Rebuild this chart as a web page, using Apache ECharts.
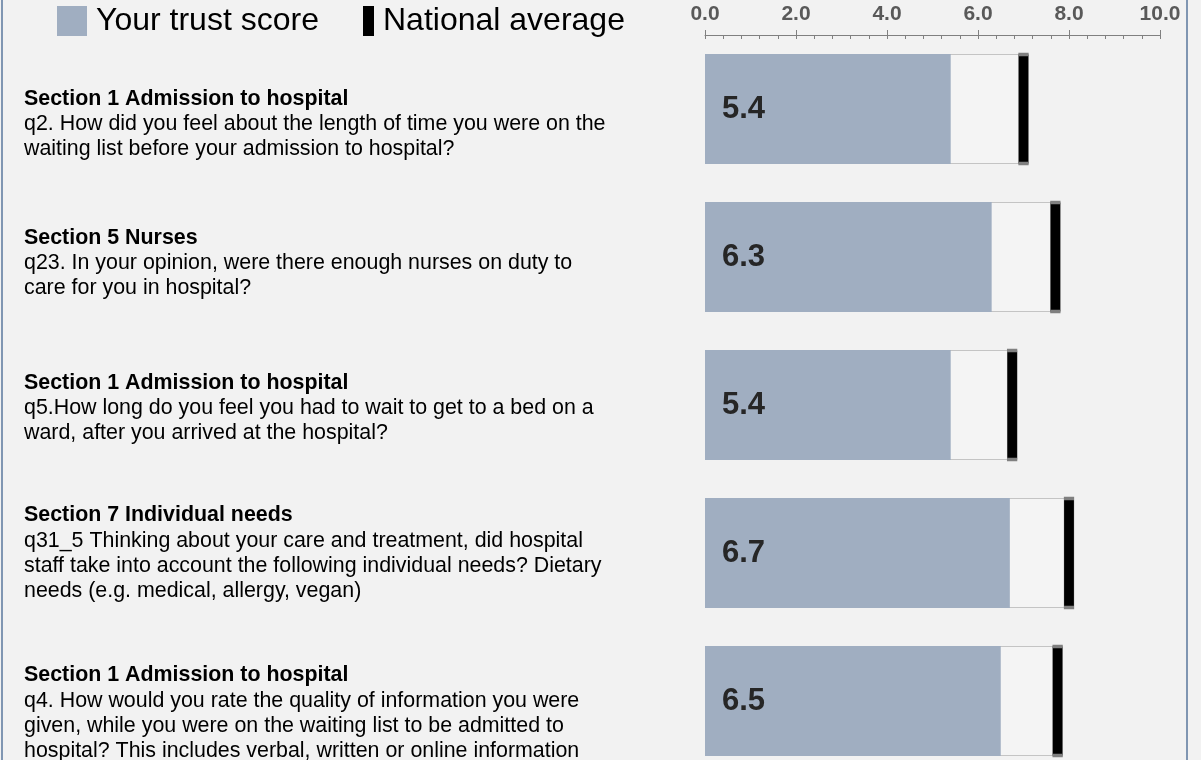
<!DOCTYPE html>
<html>
<head>
<meta charset="utf-8">
<script src="https://cdn.jsdelivr.net/npm/echarts@6/dist/echarts.min.js"></script>
<style>
  html, body { margin: 0; padding: 0; background: #f2f2f2; }
  #chart { width: 1201px; height: 760px; }
</style>
</head>
<body>
<div id="chart"></div>
<script>
// section headings (bold line) per question
const sections = [
    'Section 1 Admission to hospital',
    'Section 5 Nurses',
    'Section 1 Admission to hospital',
    'Section 7 Individual needs',
    'Section 1 Admission to hospital'
]
// question text, wrapped as in the report
const questions = [
    ['q2. How did you feel about the length of time you were on the', 'waiting list before your admission to hospital?'],
    ['q23. In your opinion, were there enough nurses on duty to', 'care for you in hospital?'],
    ['q5.How long do you feel you had to wait to get to a bed on a', 'ward, after you arrived at the hospital?'],
    ['q31_5 Thinking about your care and treatment, did hospital', 'staff take into account the following individual needs? Dietary', 'needs (e.g. medical, allergy, vegan)'],
    ['q4. How would you rate the quality of information you were', 'given, while you were on the waiting list to be admitted to', 'hospital? This includes verbal, written or online information']
]
const trustScore = [5.4, 6.3, 5.4, 6.7, 6.5]
const nationalAvg = [7.0, 7.7, 6.75, 8.0, 7.75]
const axisTicks = [0, 2, 4, 6, 8, 10]

const FONT = '"Liberation Sans", Arial, sans-serif'

// text blocks in the report sit a little below the bar centre
const labelShift = [15, 6, 3, 0, 12]
const categories = sections.map((s, i) => ({
    value: 'q' + i,
    textStyle: { align: 'left', padding: [labelShift[i] * 2, 0, 0, 0] }
}))

const chart = echarts.init(document.getElementById('chart'))

const legendText = { fontSize: 32, color: '#000', fontFamily: FONT, padding: [0, 0, 0, 4] }

const option = {
    backgroundColor: '#f2f2f2',
    textStyle: { fontFamily: FONT },
    animation: false,
    legend: [
        {
            data: [{ name: 'Your trust score', icon: 'rect' }],
            left: 57, top: 5, padding: 0,
            itemWidth: 30, itemHeight: 30,
            itemStyle: { borderWidth: 0 },
            textStyle: legendText,
            selectedMode: false
        },
        {
            data: [{ name: 'National average', icon: 'rect' }],
            left: 363, top: 5, padding: 0,
            itemWidth: 11, itemHeight: 30,
            itemStyle: { borderWidth: 0 },
            textStyle: legendText,
            selectedMode: false
        }
    ],
    grid: { left: 705, right: 41, top: 35, height: 740, outerBoundsMode: 'none', containLabel: false },
    xAxis: [
        {
            type: 'value', position: 'top',
            min: axisTicks[0], max: axisTicks[axisTicks.length - 1], interval: 2,
            axisLine: { show: true, lineStyle: { color: '#808080', width: 1 } },
            axisTick: { show: true, length: 5, lineStyle: { color: '#808080' } },
            axisLabel: {
                margin: 10, fontSize: 21, fontWeight: 'bold', color: '#595959', fontFamily: FONT,
                formatter: v => v.toFixed(1)
            },
            splitLine: { show: false }
        },
        {
            type: 'value', position: 'top',
            min: axisTicks[0], max: axisTicks[axisTicks.length - 1], interval: 2,
            axisLine: { show: false },
            axisTick: { show: true, inside: true, length: 4, lineStyle: { color: '#808080' } },
            minorTick: { show: true, splitNumber: 5, length: 4, lineStyle: { color: '#808080' } },
            axisLabel: { show: false },
            splitLine: { show: false }
        }
    ],
    yAxis: {
        type: 'category', inverse: true, data: categories,
        axisLine: { show: false }, axisTick: { show: false },
        axisLabel: {
            align: 'left', margin: 681, lineHeight: 25,
            fontSize: 21.4, color: '#000', fontFamily: FONT,
            formatter: (v, i) => '{b|' + sections[i] + '}\n' + questions[i].join('\n'),
            rich: { b: { fontWeight: 'bold', fontSize: 21.4, lineHeight: 26, fontFamily: FONT, color: '#000' } }
        }
    },
    series: [
        {
            name: 'track', type: 'bar', data: nationalAvg, barWidth: 110, silent: true,
            itemStyle: { color: '#f4f4f4', borderColor: '#c4c4c4', borderWidth: 1 },
            z: 1
        },
        {
            name: 'Your trust score', type: 'bar', data: trustScore, barWidth: 110, barGap: '-100%',
            itemStyle: { color: '#a0aec1' },
            label: {
                show: true, position: 'insideLeft', distance: 17,
                fontSize: 31, fontWeight: 'bold', color: '#262626', fontFamily: FONT,
                formatter: p => p.value.toFixed(1)
            },
            z: 2
        },
        {
            name: 'National average', type: 'scatter',
            data: nationalAvg.map((v, i) => [v, i]),
            symbol: 'rect', symbolSize: [10, 109],
            itemStyle: { color: '#000', borderColor: '#808080', borderWidth: 1, opacity: 1 },
            z: 3
        }
    ],
    graphic: [
        { type: 'rect', shape: { x: 1, y: 0, width: 2, height: 760 }, style: { fill: '#8096b2' }, silent: true },
        { type: 'rect', shape: { x: 1186, y: 0, width: 2, height: 760 }, style: { fill: '#8096b2' }, silent: true }
    ]
}

chart.setOption(option)
</script>
</body>
</html>
